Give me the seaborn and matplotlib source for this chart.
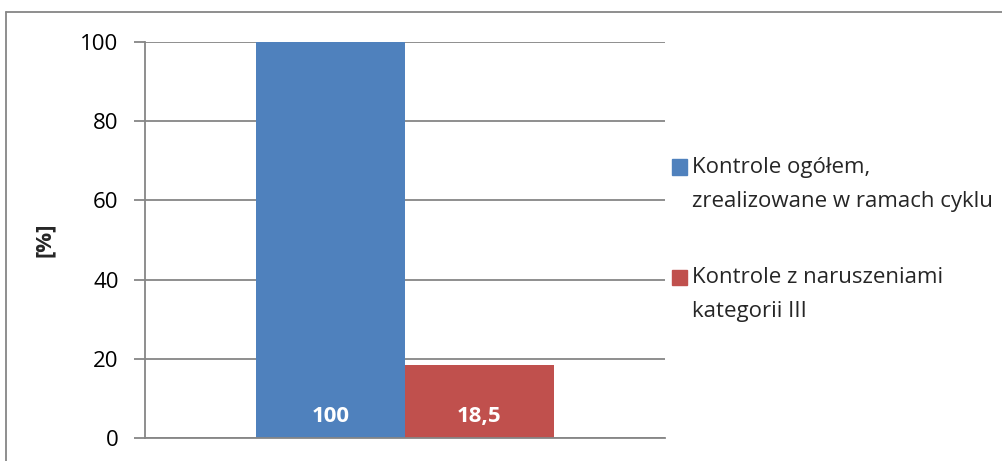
import pandas as pd
import seaborn as sns
import matplotlib.pyplot as plt
from matplotlib.lines import Line2D
import matplotlib.patches as mpatches
from matplotlib.legend_handler import HandlerPatch

# data
categories = [""]
series = ["Kontrole ogółem,\nzrealizowane w ramach cyklu",
          "Kontrole z naruszeniami\nkategorii III"]
values = [100, 18.5]
value_labels = ["100", "18,5"]
colors = ["#4F81BD", "#C0504D"]
yticks = [0, 20, 40, 60, 80, 100]

sns.set_style("white")
plt.rcParams['font.family'] = ["Open Sans", "DejaVu Sans"]
FS = 16

df = pd.DataFrame({"cat": categories * len(series), "series": series, "value": values})

fig = plt.figure(figsize=(10.03, 4.61), dpi=100)
ax = fig.add_axes([145 / 1003, 23 / 461, 520 / 1003, 396 / 461])

sns.barplot(data=df, x="cat", y="value", hue="series", palette=colors,
            width=0.573, saturation=1, linewidth=0, ax=ax, legend=False)

ax.set_ylim(0, 100)
ax.set_xlim(-0.5, 0.5)
ax.set_yticks(yticks)
ax.set_yticklabels([str(t) for t in yticks], fontsize=FS)
ax.set_xticks([])
ax.set_xlabel("")
ax.set_ylabel("[%]", fontsize=FS, fontweight="bold")
ax.yaxis.set_label_coords(-0.173, 0.5)
ax.grid(True, axis="y", color="#868686", linewidth=1.3)
ax.set_axisbelow(True)
for s in ["top", "right"]:
    ax.spines[s].set_visible(False)
for s in ["left", "bottom"]:
    ax.spines[s].set_color("#868686")
    ax.spines[s].set_linewidth(1.3)
ax.tick_params(axis="y", direction="out", length=8, width=1.3, color="#868686",
               left=True, pad=11, labelcolor="black")

# value labels inside bar base
for bar, lab in zip(ax.patches, value_labels):
    ax.text(bar.get_x() + bar.get_width() / 2, 5.5, lab, ha="center", va="center",
            color="white", fontsize=FS, fontweight="bold")


# legend square sits next to the first text line, like Excel
def top_square(legend, orig_handle, xdescent, ydescent, width, height, fontsize):
    return mpatches.Rectangle((-xdescent, -ydescent + 12.5), width, height)


handles = [mpatches.Patch(color=c) for c in colors]
leg = fig.legend(handles, series, loc="upper left", bbox_to_anchor=(663 / 1003, 1 - 148 / 461),
                 frameon=False, fontsize=FS, handlelength=0.7, handleheight=0.7,
                 handletextpad=0.2, labelspacing=2.5, borderaxespad=0,
                 handler_map={mpatches.Patch: HandlerPatch(patch_func=top_square)})
for t in leg.get_texts():
    t.set_linespacing(1.8)

# outer chart border (left and top visible)
fig.add_artist(Line2D([6 / 1003, 6 / 1003], [0, 1 - 12 / 461], color="#868686", linewidth=1.3))
fig.add_artist(Line2D([6 / 1003, 1], [1 - 12 / 461, 1 - 12 / 461], color="#868686", linewidth=1.3))

fig.savefig("out.png", dpi=100)
